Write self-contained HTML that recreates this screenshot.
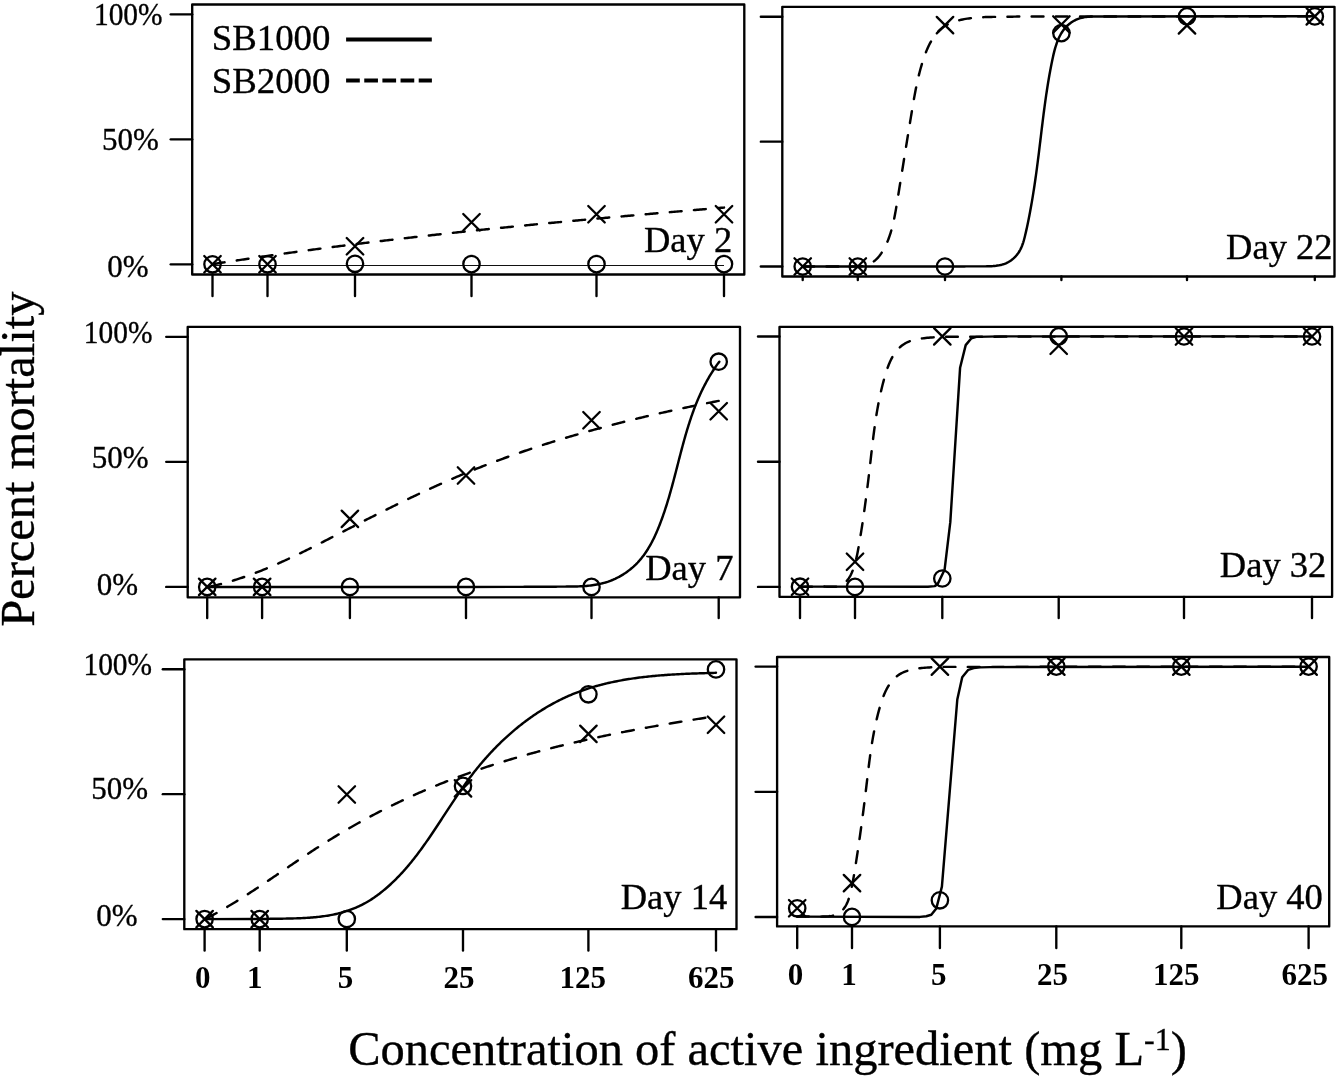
<!DOCTYPE html>
<html><head><meta charset="utf-8"><style>
html,body{margin:0;padding:0;background:#fff;width:1338px;height:1076px;overflow:hidden;}
svg{display:block;will-change:transform;font-family:"Liberation Serif",serif;}
</style></head><body>
<svg width="1338" height="1076" viewBox="0 0 1338 1076">
<rect width="1338" height="1076" fill="#fff"/>
<g fill="none" stroke="#000" stroke-linecap="round">
<rect x="192.20" y="4.50" width="552.10" height="270.00" stroke-width="2.35" stroke-linejoin="round"/>
<path d="M170.70,14.30H192.20" stroke-width="2.35" stroke-linecap="round"/>
<path d="M170.70,139.30H192.20" stroke-width="2.35" stroke-linecap="round"/>
<path d="M170.70,264.30H192.20" stroke-width="2.35" stroke-linecap="round"/>
<path d="M212.50,274.50V296.00" stroke-width="2.35" stroke-linecap="round"/>
<path d="M267.50,274.50V296.00" stroke-width="2.35" stroke-linecap="round"/>
<path d="M355.00,274.50V296.00" stroke-width="2.35" stroke-linecap="round"/>
<path d="M471.50,274.50V296.00" stroke-width="2.35" stroke-linecap="round"/>
<path d="M596.50,274.50V296.00" stroke-width="2.35" stroke-linecap="round"/>
<path d="M724.00,274.50V296.00" stroke-width="2.35" stroke-linecap="round"/>
<path d="M212.50,265.5H724.00" stroke-width="1" stroke="#111" stroke-linecap="butt"/>
<path d="M212.50,264.30 L213.97,263.97 L215.45,263.74 L216.93,263.51 L218.41,263.28 L219.90,263.05 L221.38,262.81 L222.86,262.58 L224.34,262.36 L225.83,262.13 L227.31,261.90 L228.79,261.67 L230.27,261.44 L231.76,261.22 L233.24,260.99 L234.72,260.76 L236.21,260.54 L237.69,260.31 L239.17,260.09 L240.66,259.87 L242.14,259.64 L243.62,259.42 L245.11,259.20 L246.59,258.98 L248.07,258.76 L249.56,258.54 L251.04,258.32 L252.53,258.10 L254.01,257.88 L255.49,257.66 L256.98,257.45 L258.46,257.23 L259.95,257.01 L261.43,256.80 L262.92,256.58 L264.40,256.37 L265.89,256.15 L267.37,255.94 L268.86,255.72 L270.34,255.51 L271.83,255.30 L273.31,255.09 L274.80,254.88 L276.28,254.67 L277.77,254.46 L279.25,254.25 L280.74,254.04 L282.22,253.83 L283.71,253.62 L285.19,253.41 L286.68,253.21 L288.17,253.00 L289.65,252.79 L291.14,252.59 L292.62,252.38 L294.11,252.18 L295.60,251.97 L297.08,251.77 L298.57,251.57 L300.06,251.36 L301.54,251.16 L303.03,250.96 L304.52,250.76 L306.00,250.56 L307.49,250.36 L308.98,250.16 L310.46,249.96 L311.95,249.76 L313.44,249.56 L314.93,249.36 L316.41,249.16 L317.90,248.97 L319.39,248.77 L320.87,248.57 L322.36,248.38 L323.85,248.18 L325.34,247.99 L326.82,247.79 L328.31,247.60 L329.80,247.41 L331.29,247.21 L332.78,247.02 L334.26,246.83 L335.75,246.64 L337.24,246.45 L338.73,246.26 L340.22,246.07 L341.71,245.88 L343.19,245.69 L344.68,245.50 L346.17,245.31 L347.66,245.12 L349.15,244.93 L350.64,244.75 L352.13,244.56 L353.61,244.37 L355.10,244.19 L356.59,244.00 L358.08,243.82 L359.57,243.63 L361.06,243.45 L362.55,243.26 L364.04,243.08 L365.53,242.90 L367.02,242.72 L368.51,242.53 L370.00,242.35 L371.49,242.17 L372.98,241.99 L374.46,241.81 L375.95,241.63 L377.44,241.45 L378.93,241.27 L380.42,241.09 L381.91,240.91 L383.40,240.74 L384.89,240.56 L386.38,240.38 L387.87,240.20 L389.36,240.03 L390.85,239.85 L392.35,239.68 L393.84,239.50 L395.33,239.33 L396.82,239.15 L398.31,238.98 L399.80,238.80 L401.29,238.63 L402.78,238.46 L404.27,238.28 L405.76,238.11 L407.25,237.94 L408.74,237.77 L410.23,237.60 L411.72,237.43 L413.22,237.26 L414.71,237.09 L416.20,236.92 L417.69,236.75 L419.18,236.58 L420.67,236.41 L422.16,236.24 L423.65,236.08 L425.15,235.91 L426.64,235.74 L428.13,235.57 L429.62,235.41 L431.11,235.24 L432.60,235.08 L434.09,234.91 L435.59,234.75 L437.08,234.58 L438.57,234.42 L440.06,234.25 L441.55,234.09 L443.05,233.93 L444.54,233.76 L446.03,233.60 L447.52,233.44 L449.01,233.28 L450.51,233.11 L452.00,232.95 L453.49,232.79 L454.98,232.63 L456.48,232.47 L457.97,232.31 L459.46,232.15 L460.95,231.99 L462.45,231.83 L463.94,231.68 L465.43,231.52 L466.92,231.36 L468.42,231.20 L469.91,231.04 L471.40,230.89 L472.89,230.73 L474.39,230.57 L475.88,230.42 L477.37,230.26 L478.87,230.11 L480.36,229.95 L481.85,229.80 L483.34,229.64 L484.84,229.49 L486.33,229.33 L487.82,229.18 L489.32,229.03 L490.81,228.87 L492.30,228.72 L493.80,228.57 L495.29,228.41 L496.78,228.26 L498.28,228.11 L499.77,227.96 L501.26,227.81 L502.76,227.66 L504.25,227.51 L505.74,227.36 L507.24,227.21 L508.73,227.06 L510.23,226.91 L511.72,226.76 L513.21,226.61 L514.71,226.46 L516.20,226.31 L517.69,226.16 L519.19,226.01 L520.68,225.87 L522.18,225.72 L523.67,225.57 L525.16,225.43 L526.66,225.28 L528.15,225.13 L529.65,224.99 L531.14,224.84 L532.63,224.69 L534.13,224.55 L535.62,224.40 L537.12,224.26 L538.61,224.11 L540.10,223.97 L541.60,223.83 L543.09,223.68 L544.59,223.54 L546.08,223.39 L547.58,223.25 L549.07,223.11 L550.56,222.97 L552.06,222.82 L553.55,222.68 L555.05,222.54 L556.54,222.40 L558.04,222.25 L559.53,222.11 L561.03,221.97 L562.52,221.83 L564.01,221.69 L565.51,221.55 L567.00,221.41 L568.50,221.27 L569.99,221.13 L571.49,220.99 L572.98,220.85 L574.48,220.71 L575.97,220.57 L577.47,220.43 L578.96,220.29 L580.46,220.15 L581.95,220.02 L583.45,219.88 L584.94,219.74 L586.44,219.60 L587.93,219.47 L589.43,219.33 L590.92,219.19 L592.42,219.05 L593.91,218.92 L595.40,218.78 L596.90,218.64 L598.39,218.51 L599.89,218.37 L601.38,218.24 L602.88,218.10 L604.37,217.96 L605.87,217.83 L607.36,217.69 L608.86,217.56 L610.36,217.42 L611.85,217.29 L613.35,217.15 L614.84,217.02 L616.34,216.89 L617.83,216.75 L619.33,216.62 L620.82,216.48 L622.32,216.35 L623.81,216.22 L625.31,216.08 L626.80,215.95 L628.30,215.82 L629.79,215.68 L631.29,215.55 L632.78,215.42 L634.28,215.29 L635.77,215.15 L637.27,215.02 L638.76,214.89 L640.26,214.76 L641.75,214.63 L643.25,214.50 L644.74,214.36 L646.24,214.23 L647.73,214.10 L649.23,213.97 L650.73,213.84 L652.22,213.71 L653.72,213.58 L655.21,213.45 L656.71,213.32 L658.20,213.19 L659.70,213.06 L661.19,212.93 L662.69,212.80 L664.18,212.67 L665.68,212.54 L667.17,212.41 L668.67,212.28 L670.16,212.15 L671.66,212.02 L673.15,211.89 L674.65,211.76 L676.15,211.63 L677.64,211.50 L679.14,211.37 L680.63,211.25 L682.13,211.12 L683.62,210.99 L685.12,210.86 L686.61,210.73 L688.11,210.60 L689.60,210.48 L691.10,210.35 L692.59,210.22 L694.09,210.09 L695.58,209.96 L697.08,209.84 L698.57,209.71 L700.07,209.58 L701.56,209.45 L703.06,209.33 L704.56,209.20 L706.05,209.07 L707.55,208.94 L709.04,208.82 L710.54,208.69 L712.03,208.56 L713.53,208.44 L715.02,208.31 L716.52,208.18 L718.01,208.06 L719.51,207.93 L721.00,207.80 L722.50,207.68 L724.00,207.60" stroke-width="2.45" stroke-dasharray="11.85 12.36" stroke-dashoffset="-0.37" stroke-linecap="round" stroke-linejoin="round"/>
<circle cx="212.50" cy="264.30" r="8.20" stroke-width="2.30"/>
<circle cx="267.50" cy="264.30" r="8.20" stroke-width="2.30"/>
<circle cx="355.00" cy="263.80" r="8.20" stroke-width="2.30"/>
<circle cx="471.50" cy="264.10" r="8.20" stroke-width="2.30"/>
<circle cx="596.50" cy="264.10" r="8.20" stroke-width="2.30"/>
<circle cx="724.00" cy="264.10" r="8.20" stroke-width="2.30"/>
<path d="M204.25,256.05L220.75,272.55M204.25,272.55L220.75,256.05" stroke-width="2.30" stroke-linecap="round"/>
<path d="M259.25,256.05L275.75,272.55M259.25,272.55L275.75,256.05" stroke-width="2.30" stroke-linecap="round"/>
<path d="M346.75,238.05L363.25,254.55M346.75,254.55L363.25,238.05" stroke-width="2.30" stroke-linecap="round"/>
<path d="M463.25,213.95L479.75,230.45M463.25,230.45L479.75,213.95" stroke-width="2.30" stroke-linecap="round"/>
<path d="M588.25,206.05L604.75,222.55M588.25,222.55L604.75,206.05" stroke-width="2.30" stroke-linecap="round"/>
<path d="M715.75,206.05L732.25,222.55M715.75,222.55L732.25,206.05" stroke-width="2.30" stroke-linecap="round"/>
<rect x="782.30" y="6.80" width="552.20" height="269.70" stroke-width="2.35" stroke-linejoin="round"/>
<path d="M760.80,16.80H782.30" stroke-width="2.35" stroke-linecap="round"/>
<path d="M760.80,141.65H782.30" stroke-width="2.35" stroke-linecap="round"/>
<path d="M760.80,266.50H782.30" stroke-width="2.35" stroke-linecap="round"/>
<path d="M802.70,276.50V280.00" stroke-width="2.35" stroke-linecap="round"/>
<path d="M857.80,276.50V280.00" stroke-width="2.35" stroke-linecap="round"/>
<path d="M945.00,276.50V280.00" stroke-width="2.35" stroke-linecap="round"/>
<path d="M1061.40,276.50V280.00" stroke-width="2.35" stroke-linecap="round"/>
<path d="M1187.00,276.50V280.00" stroke-width="2.35" stroke-linecap="round"/>
<path d="M1314.80,276.50V280.00" stroke-width="2.35" stroke-linecap="round"/>
<path d="M802.70,266.50 L960.00,266.50 L961.51,266.49 L963.02,266.46 L964.52,266.43 L966.02,266.40 L967.51,266.39 L969.01,266.38 L970.50,266.37 L971.99,266.37 L973.49,266.37 L974.98,266.37 L976.47,266.37 L977.97,266.37 L979.46,266.37 L980.96,266.37 L982.47,266.37 L983.97,266.36 L985.49,266.35 L987.00,266.33 L988.52,266.29 L990.04,266.24 L991.55,266.17 L993.06,266.08 L994.56,265.95 L996.04,265.79 L997.52,265.58 L998.98,265.34 L1000.42,265.04 L1001.84,264.69 L1003.23,264.28 L1004.60,263.81 L1005.95,263.27 L1007.26,262.65 L1008.53,261.97 L1009.77,261.23 L1010.98,260.42 L1012.14,259.55 L1013.26,258.62 L1014.33,257.63 L1015.36,256.60 L1016.34,255.52 L1017.26,254.39 L1018.13,253.21 L1018.95,252.00 L1019.70,250.75 L1020.40,249.47 L1021.04,248.15 L1021.64,246.80 L1022.19,245.43 L1022.70,244.04 L1023.18,242.62 L1023.62,241.19 L1024.03,239.74 L1024.42,238.28 L1024.80,236.80 L1025.15,235.32 L1025.50,233.84 L1025.84,232.36 L1026.17,230.87 L1026.50,229.38 L1026.83,227.90 L1027.15,226.41 L1027.47,224.92 L1027.78,223.44 L1028.09,221.95 L1028.39,220.46 L1028.69,218.97 L1028.98,217.48 L1029.28,216.00 L1029.56,214.51 L1029.85,213.02 L1030.13,211.53 L1030.40,210.04 L1030.67,208.55 L1030.94,207.06 L1031.21,205.57 L1031.47,204.08 L1031.73,202.60 L1031.98,201.11 L1032.23,199.62 L1032.48,198.13 L1032.73,196.64 L1032.97,195.15 L1033.21,193.66 L1033.44,192.17 L1033.68,190.68 L1033.91,189.19 L1034.13,187.71 L1034.36,186.22 L1034.58,184.73 L1034.80,183.24 L1035.02,181.75 L1035.23,180.26 L1035.45,178.78 L1035.66,177.29 L1035.87,175.80 L1036.07,174.32 L1036.28,172.83 L1036.48,171.35 L1036.68,169.86 L1036.88,168.37 L1037.07,166.89 L1037.27,165.41 L1037.46,163.92 L1037.66,162.44 L1037.85,160.96 L1038.03,159.47 L1038.22,157.99 L1038.41,156.51 L1038.59,155.03 L1038.78,153.55 L1038.96,152.07 L1039.14,150.59 L1039.32,149.11 L1039.50,147.63 L1039.68,146.16 L1039.86,144.68 L1040.04,143.20 L1040.22,141.73 L1040.39,140.25 L1040.57,138.77 L1040.75,137.30 L1040.92,135.82 L1041.10,134.35 L1041.28,132.87 L1041.46,131.40 L1041.63,129.93 L1041.81,128.45 L1041.99,126.98 L1042.17,125.50 L1042.35,124.03 L1042.53,122.55 L1042.71,121.08 L1042.90,119.60 L1043.08,118.13 L1043.27,116.65 L1043.46,115.18 L1043.64,113.70 L1043.83,112.22 L1044.03,110.74 L1044.22,109.27 L1044.42,107.79 L1044.61,106.31 L1044.81,104.83 L1045.02,103.35 L1045.22,101.87 L1045.43,100.39 L1045.64,98.90 L1045.85,97.42 L1046.07,95.94 L1046.28,94.45 L1046.51,92.96 L1046.73,91.48 L1046.96,89.99 L1047.19,88.50 L1047.42,87.01 L1047.66,85.52 L1047.90,84.02 L1048.14,82.53 L1048.39,81.03 L1048.64,79.54 L1048.90,78.04 L1049.16,76.54 L1049.42,75.04 L1049.69,73.53 L1049.97,72.03 L1050.24,70.52 L1050.53,69.02 L1050.81,67.51 L1051.11,66.00 L1051.40,64.48 L1051.70,62.97 L1052.01,61.45 L1052.32,59.94 L1052.64,58.42 L1052.97,56.90 L1053.31,55.39 L1053.66,53.88 L1054.03,52.38 L1054.41,50.89 L1054.81,49.41 L1055.22,47.94 L1055.66,46.48 L1056.12,45.03 L1056.60,43.61 L1057.11,42.20 L1057.64,40.81 L1058.21,39.44 L1058.80,38.09 L1059.43,36.77 L1060.09,35.48 L1060.78,34.21 L1061.51,32.97 L1062.28,31.77 L1063.09,30.59 L1063.94,29.45 L1064.84,28.34 L1065.78,27.28 L1066.76,26.25 L1067.80,25.26 L1068.87,24.32 L1070.00,23.42 L1071.16,22.56 L1072.37,21.76 L1073.61,21.01 L1074.89,20.32 L1076.20,19.68 L1077.54,19.10 L1078.92,18.59 L1080.32,18.13 L1081.75,17.75 L1083.20,17.43 L1084.68,17.16 L1086.16,16.95 L1087.67,16.79 L1089.18,16.66 L1090.69,16.58 L1092.21,16.52 L1093.73,16.49 L1095.24,16.47 L1096.74,16.48 L1098.23,16.48 L1099.70,16.40 L1314.80,16.30" stroke-width="2.45" stroke-linejoin="round"/>
<path d="M802.70,266.50 L857.80,266.50 L859.32,266.41 L860.94,266.32 L862.50,266.15 L864.01,265.88 L865.47,265.53 L866.87,265.10 L868.23,264.59 L869.54,264.01 L870.80,263.35 L872.02,262.63 L873.19,261.84 L874.32,261.00 L875.40,260.09 L876.45,259.13 L877.45,258.12 L878.42,257.06 L879.34,255.95 L880.24,254.80 L881.09,253.62 L881.91,252.40 L882.70,251.14 L883.46,249.86 L884.18,248.55 L884.88,247.22 L885.55,245.87 L886.19,244.50 L886.80,243.13 L887.39,241.74 L887.96,240.34 L888.50,238.94 L889.02,237.53 L889.52,236.12 L890.00,234.69 L890.46,233.27 L890.90,231.84 L891.32,230.40 L891.73,228.96 L892.12,227.51 L892.49,226.06 L892.85,224.60 L893.20,223.14 L893.53,221.68 L893.85,220.21 L894.16,218.74 L894.46,217.27 L894.75,215.79 L895.03,214.31 L895.30,212.83 L895.57,211.35 L895.83,209.87 L896.09,208.38 L896.34,206.89 L896.59,205.41 L896.83,203.92 L897.07,202.43 L897.31,200.94 L897.56,199.45 L897.80,197.96 L898.04,196.47 L898.28,194.98 L898.52,193.49 L898.76,192.00 L899.00,190.51 L899.24,189.02 L899.48,187.53 L899.72,186.04 L899.96,184.55 L900.20,183.07 L900.44,181.58 L900.68,180.09 L900.92,178.60 L901.16,177.11 L901.40,175.62 L901.64,174.14 L901.88,172.65 L902.12,171.16 L902.36,169.67 L902.60,168.19 L902.84,166.70 L903.08,165.21 L903.32,163.73 L903.56,162.24 L903.79,160.76 L904.03,159.27 L904.27,157.79 L904.51,156.30 L904.75,154.82 L904.99,153.34 L905.23,151.85 L905.47,150.37 L905.71,148.89 L905.95,147.41 L906.19,145.92 L906.43,144.44 L906.67,142.96 L906.91,141.48 L907.15,140.00 L907.39,138.52 L907.63,137.05 L907.87,135.57 L908.12,134.09 L908.36,132.61 L908.60,131.14 L908.84,129.66 L909.08,128.19 L909.32,126.71 L909.56,125.24 L909.81,123.76 L910.05,122.29 L910.29,120.82 L910.53,119.35 L910.78,117.88 L911.02,116.41 L911.26,114.94 L911.50,113.47 L911.75,112.00 L911.99,110.53 L912.24,109.07 L912.48,107.60 L912.73,106.14 L912.97,104.67 L913.22,103.21 L913.47,101.75 L913.73,100.28 L913.98,98.82 L914.24,97.36 L914.51,95.89 L914.78,94.43 L915.05,92.97 L915.33,91.50 L915.61,90.04 L915.90,88.58 L916.19,87.11 L916.49,85.65 L916.80,84.18 L917.11,82.72 L917.43,81.25 L917.76,79.78 L918.10,78.32 L918.45,76.85 L918.81,75.38 L919.17,73.91 L919.55,72.44 L919.93,70.96 L920.33,69.49 L920.74,68.01 L921.16,66.54 L921.59,65.06 L922.03,63.58 L922.49,62.10 L922.96,60.61 L923.44,59.13 L923.94,57.65 L924.45,56.18 L924.98,54.71 L925.53,53.26 L926.10,51.81 L926.68,50.37 L927.29,48.95 L927.92,47.54 L928.56,46.15 L929.24,44.78 L929.93,43.43 L930.65,42.10 L931.39,40.80 L932.16,39.52 L932.96,38.27 L933.79,37.05 L934.64,35.86 L935.52,34.70 L936.44,33.58 L937.38,32.50 L938.36,31.45 L939.37,30.44 L940.41,29.48 L941.49,28.56 L942.60,27.68 L943.75,26.85 L944.93,26.07 L946.15,25.33 L947.40,24.64 L948.67,23.98 L949.98,23.37 L951.31,22.79 L952.67,22.26 L954.05,21.76 L955.45,21.29 L956.87,20.86 L958.31,20.45 L959.76,20.08 L961.23,19.74 L962.71,19.43 L964.21,19.14 L965.71,18.87 L967.23,18.63 L968.75,18.42 L970.27,18.22 L971.80,18.04 L973.33,17.88 L974.86,17.73 L976.39,17.61 L977.91,17.49 L979.43,17.39 L980.95,17.30 L982.46,17.22 L983.98,17.15 L985.48,17.09 L986.99,17.03 L988.50,16.99 L990.00,16.95 L991.50,16.92 L993.00,16.90 L994.50,16.88 L996.00,16.86 L997.49,16.85 L998.99,16.83 L1000.48,16.82 L1001.98,16.81 L1003.48,16.80 L1004.97,16.79 L1006.47,16.78 L1007.97,16.76 L1009.47,16.74 L1010.97,16.72 L1012.47,16.69 L1013.98,16.65 L1015.48,16.61 L1016.99,16.56 L1018.50,16.50 L1020.00,16.50 L1314.80,16.30" stroke-width="2.45" stroke-dasharray="11.85 12.36" stroke-dashoffset="0.41" stroke-linecap="round" stroke-linejoin="round"/>
<circle cx="802.70" cy="266.50" r="8.20" stroke-width="2.30"/>
<circle cx="857.80" cy="266.50" r="8.20" stroke-width="2.30"/>
<circle cx="945.00" cy="266.50" r="8.20" stroke-width="2.30"/>
<circle cx="1061.40" cy="33.10" r="8.20" stroke-width="2.30"/>
<circle cx="1187.00" cy="16.40" r="8.20" stroke-width="2.30"/>
<circle cx="1314.80" cy="16.40" r="8.20" stroke-width="2.30"/>
<path d="M794.45,258.25L810.95,274.75M794.45,274.75L810.95,258.25" stroke-width="2.30" stroke-linecap="round"/>
<path d="M849.55,258.25L866.05,274.75M849.55,274.75L866.05,258.25" stroke-width="2.30" stroke-linecap="round"/>
<path d="M936.75,16.85L953.25,33.35M936.75,33.35L953.25,16.85" stroke-width="2.30" stroke-linecap="round"/>
<path d="M1053.15,16.25L1069.65,32.75M1053.15,32.75L1069.65,16.25" stroke-width="2.30" stroke-linecap="round"/>
<path d="M1178.75,17.15L1195.25,33.65M1178.75,33.65L1195.25,17.15" stroke-width="2.30" stroke-linecap="round"/>
<path d="M1306.55,8.15L1323.05,24.65M1306.55,24.65L1323.05,8.15" stroke-width="2.30" stroke-linecap="round"/>
<rect x="187.70" y="326.90" width="552.30" height="270.40" stroke-width="2.35" stroke-linejoin="round"/>
<path d="M166.20,336.80H187.70" stroke-width="2.35" stroke-linecap="round"/>
<path d="M166.20,461.85H187.70" stroke-width="2.35" stroke-linecap="round"/>
<path d="M166.20,586.90H187.70" stroke-width="2.35" stroke-linecap="round"/>
<path d="M207.20,597.30V618.00" stroke-width="2.35" stroke-linecap="round"/>
<path d="M262.10,597.30V618.00" stroke-width="2.35" stroke-linecap="round"/>
<path d="M349.90,597.30V618.00" stroke-width="2.35" stroke-linecap="round"/>
<path d="M466.00,597.30V618.00" stroke-width="2.35" stroke-linecap="round"/>
<path d="M591.50,597.30V618.00" stroke-width="2.35" stroke-linecap="round"/>
<path d="M718.70,597.30V618.00" stroke-width="2.35" stroke-linecap="round"/>
<path d="M207.20,586.90 L262.10,586.90 L349.90,586.90 L466.00,586.90 L520.00,586.85 L521.50,586.88 L523.02,586.86 L524.53,586.84 L526.04,586.83 L527.55,586.81 L529.06,586.80 L530.56,586.79 L532.07,586.78 L533.57,586.76 L535.07,586.75 L536.58,586.74 L538.08,586.73 L539.58,586.73 L541.08,586.72 L542.58,586.71 L544.07,586.70 L545.57,586.69 L547.07,586.69 L548.57,586.68 L550.07,586.67 L551.57,586.67 L553.08,586.66 L554.58,586.65 L556.08,586.65 L557.59,586.64 L559.09,586.63 L560.60,586.63 L562.11,586.62 L563.62,586.61 L565.14,586.60 L566.65,586.59 L568.17,586.58 L569.69,586.57 L571.21,586.55 L572.73,586.53 L574.25,586.50 L575.77,586.46 L577.29,586.42 L578.80,586.36 L580.32,586.30 L581.83,586.22 L583.34,586.13 L584.85,586.03 L586.36,585.91 L587.86,585.78 L589.36,585.62 L590.85,585.45 L592.33,585.26 L593.82,585.05 L595.29,584.82 L596.76,584.57 L598.22,584.29 L599.68,583.99 L601.13,583.66 L602.57,583.30 L604.00,582.92 L605.42,582.51 L606.83,582.06 L608.24,581.59 L609.63,581.09 L611.01,580.56 L612.38,580.01 L613.74,579.42 L615.09,578.81 L616.42,578.17 L617.74,577.51 L619.05,576.82 L620.34,576.10 L621.62,575.36 L622.89,574.60 L624.14,573.80 L625.37,572.99 L626.58,572.15 L627.78,571.28 L628.96,570.39 L630.13,569.48 L631.27,568.55 L632.40,567.59 L633.51,566.61 L634.59,565.61 L635.66,564.59 L636.71,563.54 L637.73,562.48 L638.73,561.39 L639.72,560.28 L640.68,559.16 L641.61,558.01 L642.53,556.85 L643.43,555.67 L644.31,554.47 L645.17,553.25 L646.01,552.02 L646.83,550.77 L647.64,549.51 L648.42,548.23 L649.19,546.94 L649.95,545.64 L650.68,544.33 L651.41,543.00 L652.11,541.66 L652.81,540.31 L653.48,538.95 L654.15,537.59 L654.80,536.21 L655.44,534.82 L656.06,533.43 L656.68,532.03 L657.28,530.63 L657.87,529.22 L658.45,527.80 L659.03,526.38 L659.59,524.96 L660.14,523.53 L660.68,522.10 L661.22,520.66 L661.75,519.23 L662.27,517.79 L662.78,516.36 L663.28,514.92 L663.78,513.47 L664.27,512.03 L664.75,510.59 L665.23,509.14 L665.70,507.69 L666.17,506.25 L666.62,504.80 L667.08,503.34 L667.52,501.89 L667.97,500.44 L668.40,498.98 L668.84,497.53 L669.26,496.07 L669.68,494.62 L670.10,493.16 L670.52,491.70 L670.93,490.24 L671.33,488.78 L671.74,487.32 L672.14,485.86 L672.53,484.40 L672.93,482.94 L673.32,481.48 L673.71,480.01 L674.09,478.55 L674.48,477.09 L674.86,475.63 L675.24,474.17 L675.62,472.70 L676.00,471.24 L676.37,469.78 L676.75,468.32 L677.13,466.86 L677.50,465.40 L677.88,463.94 L678.25,462.48 L678.62,461.02 L679.00,459.56 L679.38,458.11 L679.75,456.65 L680.13,455.19 L680.51,453.74 L680.89,452.28 L681.27,450.83 L681.65,449.38 L682.04,447.93 L682.43,446.48 L682.82,445.03 L683.21,443.59 L683.61,442.14 L684.00,440.70 L684.41,439.26 L684.81,437.82 L685.22,436.38 L685.63,434.94 L686.05,433.50 L686.47,432.07 L686.90,430.64 L687.33,429.21 L687.76,427.78 L688.20,426.36 L688.65,424.93 L689.10,423.51 L689.56,422.09 L690.02,420.68 L690.49,419.26 L690.96,417.85 L691.44,416.44 L691.93,415.04 L692.43,413.64 L692.93,412.23 L693.44,410.84 L693.95,409.44 L694.48,408.05 L695.01,406.66 L695.55,405.27 L696.10,403.89 L696.66,402.51 L697.23,401.14 L697.80,399.76 L698.39,398.39 L698.98,397.03 L699.58,395.66 L700.20,394.30 L700.82,392.95 L701.45,391.60 L702.10,390.25 L702.75,388.90 L703.42,387.56 L704.09,386.23 L704.78,384.89 L705.48,383.56 L706.19,382.24 L706.91,380.92 L707.64,379.60 L708.39,378.29 L709.15,376.98 L709.92,375.68 L710.71,374.38 L711.50,373.09 L712.31,371.80 L713.14,370.51 L713.97,369.23 L714.83,367.96 L715.69,366.69 L716.57,365.42 L717.47,364.16 L718.37,362.91 L719.30,361.70" stroke-width="2.45" stroke-linejoin="round"/>
<path d="M207.20,586.90 L208.74,586.92 L210.21,586.60 L211.68,586.27 L213.15,585.94 L214.62,585.60 L216.08,585.25 L217.54,584.89 L218.99,584.53 L220.45,584.15 L221.90,583.78 L223.35,583.39 L224.79,582.99 L226.23,582.59 L227.67,582.19 L229.11,581.77 L230.55,581.35 L231.98,580.92 L233.41,580.49 L234.84,580.04 L236.26,579.60 L237.69,579.14 L239.11,578.68 L240.52,578.21 L241.94,577.74 L243.35,577.26 L244.77,576.77 L246.17,576.28 L247.58,575.79 L248.99,575.28 L250.39,574.78 L251.79,574.26 L253.19,573.74 L254.59,573.22 L255.98,572.69 L257.38,572.15 L258.77,571.61 L260.16,571.07 L261.54,570.52 L262.93,569.96 L264.31,569.40 L265.70,568.84 L267.08,568.27 L268.46,567.69 L269.83,567.11 L271.21,566.53 L272.59,565.95 L273.96,565.35 L275.33,564.76 L276.70,564.16 L278.07,563.56 L279.44,562.95 L280.80,562.34 L282.17,561.73 L283.53,561.11 L284.89,560.49 L286.25,559.87 L287.61,559.24 L288.97,558.61 L290.33,557.97 L291.68,557.34 L293.04,556.70 L294.39,556.06 L295.75,555.41 L297.10,554.76 L298.45,554.11 L299.80,553.46 L301.15,552.80 L302.50,552.15 L303.85,551.49 L305.19,550.82 L306.54,550.16 L307.89,549.49 L309.23,548.83 L310.58,548.16 L311.92,547.49 L313.26,546.81 L314.61,546.14 L315.95,545.46 L317.29,544.79 L318.63,544.11 L319.97,543.43 L321.31,542.75 L322.65,542.06 L323.99,541.38 L325.33,540.70 L326.67,540.01 L328.01,539.33 L329.35,538.64 L330.69,537.96 L332.03,537.27 L333.37,536.59 L334.71,535.90 L336.05,535.21 L337.38,534.52 L338.72,533.84 L340.06,533.15 L341.40,532.46 L342.74,531.78 L344.08,531.09 L345.42,530.40 L346.76,529.72 L348.10,529.03 L349.44,528.35 L350.78,527.66 L352.12,526.98 L353.46,526.29 L354.80,525.61 L356.14,524.92 L357.48,524.24 L358.82,523.55 L360.16,522.87 L361.50,522.19 L362.84,521.50 L364.18,520.82 L365.53,520.14 L366.87,519.46 L368.21,518.78 L369.55,518.10 L370.90,517.42 L372.24,516.74 L373.58,516.06 L374.93,515.39 L376.27,514.71 L377.62,514.04 L378.96,513.36 L380.31,512.69 L381.65,512.01 L383.00,511.34 L384.34,510.67 L385.69,510.00 L387.04,509.33 L388.39,508.66 L389.73,507.99 L391.08,507.33 L392.43,506.66 L393.78,506.00 L395.13,505.33 L396.48,504.67 L397.83,504.01 L399.18,503.35 L400.54,502.69 L401.89,502.03 L403.24,501.37 L404.59,500.72 L405.95,500.06 L407.30,499.41 L408.66,498.76 L410.01,498.11 L411.37,497.46 L412.73,496.81 L414.08,496.17 L415.44,495.52 L416.80,494.88 L418.16,494.24 L419.52,493.60 L420.88,492.96 L422.24,492.32 L423.60,491.69 L424.97,491.05 L426.33,490.42 L427.69,489.79 L429.06,489.16 L430.42,488.53 L431.79,487.91 L433.16,487.29 L434.52,486.66 L435.89,486.04 L437.26,485.43 L438.63,484.81 L440.00,484.20 L441.38,483.58 L442.75,482.97 L444.12,482.37 L445.49,481.76 L446.87,481.15 L448.25,480.55 L449.62,479.95 L451.00,479.35 L452.38,478.76 L453.76,478.16 L455.14,477.57 L456.52,476.98 L457.90,476.40 L459.28,475.81 L460.67,475.23 L462.05,474.65 L463.44,474.07 L464.83,473.49 L466.21,472.92 L467.60,472.35 L468.99,471.78 L470.38,471.21 L471.77,470.65 L473.17,470.09 L474.56,469.53 L475.95,468.97 L477.35,468.41 L478.74,467.86 L480.14,467.31 L481.54,466.76 L482.94,466.21 L484.34,465.67 L485.74,465.12 L487.14,464.58 L488.54,464.05 L489.94,463.51 L491.34,462.98 L492.75,462.44 L494.15,461.91 L495.56,461.39 L496.97,460.86 L498.37,460.34 L499.78,459.82 L501.19,459.30 L502.60,458.78 L504.01,458.26 L505.42,457.75 L506.84,457.24 L508.25,456.73 L509.66,456.22 L511.08,455.72 L512.49,455.21 L513.91,454.71 L515.33,454.21 L516.74,453.72 L518.16,453.22 L519.58,452.73 L521.00,452.24 L522.42,451.75 L523.84,451.26 L525.27,450.78 L526.69,450.29 L528.11,449.81 L529.54,449.33 L530.96,448.86 L532.39,448.38 L533.81,447.91 L535.24,447.44 L536.67,446.97 L538.09,446.50 L539.52,446.03 L540.95,445.57 L542.38,445.11 L543.81,444.65 L545.24,444.19 L546.68,443.73 L548.11,443.28 L549.54,442.82 L550.98,442.37 L552.41,441.92 L553.85,441.48 L555.28,441.03 L556.72,440.59 L558.16,440.14 L559.59,439.70 L561.03,439.27 L562.47,438.83 L563.91,438.39 L565.35,437.96 L566.79,437.53 L568.23,437.10 L569.67,436.67 L571.11,436.25 L572.56,435.82 L574.00,435.40 L575.44,434.98 L576.89,434.56 L578.33,434.14 L579.78,433.73 L581.22,433.31 L582.67,432.90 L584.12,432.49 L585.56,432.08 L587.01,431.67 L588.46,431.27 L589.91,430.86 L591.36,430.46 L592.81,430.06 L594.26,429.66 L595.71,429.26 L597.16,428.86 L598.61,428.47 L600.06,428.08 L601.51,427.69 L602.97,427.30 L604.42,426.91 L605.87,426.52 L607.33,426.14 L608.78,425.75 L610.24,425.37 L611.69,424.99 L613.15,424.61 L614.61,424.23 L616.06,423.86 L617.52,423.48 L618.98,423.11 L620.43,422.74 L621.89,422.37 L623.35,422.00 L624.81,421.63 L626.27,421.27 L627.73,420.90 L629.19,420.54 L630.65,420.18 L632.11,419.82 L633.57,419.46 L635.03,419.10 L636.49,418.75 L637.95,418.40 L639.42,418.04 L640.88,417.69 L642.34,417.34 L643.80,416.99 L645.27,416.65 L646.73,416.30 L648.19,415.96 L649.66,415.61 L651.12,415.27 L652.59,414.93 L654.05,414.59 L655.52,414.25 L656.98,413.92 L658.45,413.58 L659.91,413.25 L661.38,412.92 L662.85,412.58 L664.31,412.25 L665.78,411.93 L667.25,411.60 L668.72,411.27 L670.18,410.95 L671.65,410.62 L673.12,410.30 L674.59,409.98 L676.05,409.66 L677.52,409.34 L678.99,409.02 L680.46,408.71 L681.93,408.39 L683.40,408.08 L684.87,407.77 L686.34,407.45 L687.81,407.14 L689.28,406.83 L690.74,406.53 L692.21,406.22 L693.68,405.91 L695.15,405.61 L696.62,405.31 L698.10,405.00 L699.57,404.70 L701.04,404.40 L702.51,404.10 L703.98,403.80 L705.45,403.51 L706.92,403.21 L708.39,402.92 L709.86,402.62 L711.33,402.33 L712.80,402.04 L714.27,401.75 L715.75,401.46 L717.22,401.17 L718.70,400.90" stroke-width="2.45" stroke-dasharray="11.85 12.36" stroke-dashoffset="-2.29" stroke-linecap="round" stroke-linejoin="round"/>
<circle cx="207.20" cy="586.90" r="8.20" stroke-width="2.30"/>
<circle cx="262.10" cy="586.90" r="8.20" stroke-width="2.30"/>
<circle cx="349.90" cy="586.90" r="8.20" stroke-width="2.30"/>
<circle cx="466.00" cy="586.90" r="8.20" stroke-width="2.30"/>
<circle cx="591.50" cy="586.90" r="8.20" stroke-width="2.30"/>
<circle cx="718.70" cy="361.70" r="8.20" stroke-width="2.30"/>
<path d="M198.95,578.65L215.45,595.15M198.95,595.15L215.45,578.65" stroke-width="2.30" stroke-linecap="round"/>
<path d="M253.85,578.65L270.35,595.15M253.85,595.15L270.35,578.65" stroke-width="2.30" stroke-linecap="round"/>
<path d="M341.65,510.65L358.15,527.15M341.65,527.15L358.15,510.65" stroke-width="2.30" stroke-linecap="round"/>
<path d="M457.75,467.25L474.25,483.75M457.75,483.75L474.25,467.25" stroke-width="2.30" stroke-linecap="round"/>
<path d="M583.25,412.05L599.75,428.55M583.25,428.55L599.75,412.05" stroke-width="2.30" stroke-linecap="round"/>
<path d="M710.45,402.95L726.95,419.45M710.45,419.45L726.95,402.95" stroke-width="2.30" stroke-linecap="round"/>
<rect x="779.50" y="326.90" width="552.60" height="269.90" stroke-width="2.35" stroke-linejoin="round"/>
<path d="M758.00,336.50H779.50" stroke-width="2.35" stroke-linecap="round"/>
<path d="M758.00,461.70H779.50" stroke-width="2.35" stroke-linecap="round"/>
<path d="M758.00,586.90H779.50" stroke-width="2.35" stroke-linecap="round"/>
<path d="M800.00,596.80V618.00" stroke-width="2.35" stroke-linecap="round"/>
<path d="M855.00,596.80V618.00" stroke-width="2.35" stroke-linecap="round"/>
<path d="M942.30,596.80V618.00" stroke-width="2.35" stroke-linecap="round"/>
<path d="M1058.70,596.80V618.00" stroke-width="2.35" stroke-linecap="round"/>
<path d="M1184.00,596.80V618.00" stroke-width="2.35" stroke-linecap="round"/>
<path d="M1312.00,596.80V618.00" stroke-width="2.35" stroke-linecap="round"/>
<path d="M800.00,586.60 L928.00,586.70 L934.60,586.10 L937.50,584.40 L944.60,569.70 L950.30,522.20 L960.10,367.70 L965.70,345.10 L971.40,338.20 L976.40,336.90 L1000.00,336.40 L1312.00,336.40" stroke-width="2.45" stroke-linejoin="round"/>
<path d="M800.00,586.70 L801.50,586.71 L803.01,586.72 L804.52,586.73 L806.02,586.73 L807.52,586.72 L809.01,586.71 L810.51,586.69 L812.00,586.67 L813.49,586.65 L814.99,586.63 L816.48,586.61 L817.98,586.59 L819.47,586.58 L820.97,586.58 L822.47,586.58 L823.98,586.59 L825.49,586.62 L827.01,586.66 L828.53,586.71 L830.05,586.76 L831.57,586.80 L833.08,586.82 L834.57,586.79 L836.04,586.69 L837.47,586.50 L838.85,586.18 L840.18,585.73 L841.44,585.15 L842.65,584.47 L843.81,583.68 L844.90,582.79 L845.94,581.81 L846.92,580.75 L847.84,579.61 L848.70,578.41 L849.51,577.15 L850.28,575.83 L850.99,574.46 L851.65,573.05 L852.28,571.61 L852.86,570.14 L853.41,568.65 L853.92,567.14 L854.40,565.62 L854.84,564.10 L855.26,562.58 L855.66,561.07 L856.03,559.57 L856.39,558.09 L856.72,556.61 L857.04,555.15 L857.34,553.69 L857.63,552.23 L857.91,550.78 L858.18,549.33 L858.44,547.89 L858.70,546.44 L858.95,544.99 L859.21,543.54 L859.46,542.09 L859.70,540.63 L859.95,539.17 L860.19,537.71 L860.43,536.25 L860.67,534.79 L860.91,533.32 L861.15,531.86 L861.38,530.39 L861.61,528.92 L861.84,527.45 L862.07,525.97 L862.29,524.50 L862.52,523.02 L862.74,521.54 L862.96,520.06 L863.17,518.58 L863.39,517.10 L863.61,515.62 L863.82,514.13 L864.03,512.65 L864.24,511.16 L864.45,509.67 L864.65,508.18 L864.86,506.69 L865.06,505.20 L865.26,503.71 L865.46,502.22 L865.66,500.73 L865.86,499.24 L866.06,497.74 L866.25,496.25 L866.44,494.76 L866.64,493.26 L866.83,491.77 L867.02,490.27 L867.20,488.78 L867.39,487.28 L867.58,485.78 L867.76,484.29 L867.95,482.79 L868.13,481.30 L868.31,479.80 L868.49,478.31 L868.67,476.81 L868.85,475.32 L869.03,473.82 L869.20,472.33 L869.38,470.84 L869.55,469.34 L869.73,467.85 L869.90,466.36 L870.07,464.87 L870.24,463.38 L870.42,461.89 L870.59,460.40 L870.76,458.91 L870.93,457.43 L871.09,455.94 L871.26,454.45 L871.43,452.97 L871.60,451.48 L871.77,450.00 L871.95,448.52 L872.12,447.04 L872.29,445.55 L872.47,444.07 L872.64,442.59 L872.82,441.11 L873.00,439.63 L873.18,438.16 L873.36,436.68 L873.55,435.20 L873.74,433.72 L873.93,432.24 L874.12,430.77 L874.32,429.29 L874.52,427.82 L874.72,426.34 L874.93,424.86 L875.14,423.39 L875.36,421.91 L875.58,420.44 L875.80,418.96 L876.03,417.49 L876.26,416.01 L876.50,414.54 L876.74,413.07 L876.98,411.59 L877.24,410.12 L877.50,408.64 L877.76,407.17 L878.03,405.69 L878.30,404.22 L878.59,402.75 L878.87,401.27 L879.17,399.80 L879.47,398.32 L879.78,396.85 L880.09,395.37 L880.42,393.90 L880.75,392.42 L881.09,390.94 L881.43,389.47 L881.79,387.99 L882.15,386.51 L882.52,385.04 L882.90,383.56 L883.28,382.08 L883.68,380.60 L884.09,379.12 L884.50,377.64 L884.92,376.16 L885.36,374.68 L885.81,373.21 L886.27,371.74 L886.75,370.28 L887.24,368.83 L887.75,367.40 L888.29,365.97 L888.84,364.57 L889.41,363.18 L890.01,361.81 L890.63,360.46 L891.28,359.14 L891.96,357.84 L892.66,356.57 L893.40,355.32 L894.16,354.11 L894.96,352.94 L895.79,351.79 L896.66,350.69 L897.57,349.63 L898.51,348.60 L899.50,347.62 L900.52,346.69 L901.59,345.80 L902.70,344.96 L903.85,344.17 L905.05,343.43 L906.30,342.75 L907.60,342.13 L908.94,341.56 L910.33,341.04 L911.75,340.56 L913.20,340.14 L914.69,339.75 L916.20,339.40 L917.73,339.09 L919.28,338.82 L920.85,338.57 L922.42,338.35 L924.01,338.16 L925.59,337.98 L927.18,337.83 L928.77,337.69 L930.34,337.57 L931.90,337.46 L933.45,337.35 L934.98,337.25 L936.49,337.15 L937.97,337.04 L939.41,336.94 L940.83,336.83 L942.30,336.70 L1312.00,336.40" stroke-width="2.45" stroke-dasharray="11.85 12.36" stroke-dashoffset="-0.17" stroke-linecap="round" stroke-linejoin="round"/>
<circle cx="800.00" cy="586.70" r="8.20" stroke-width="2.30"/>
<circle cx="855.00" cy="586.90" r="8.20" stroke-width="2.30"/>
<circle cx="942.30" cy="578.50" r="8.20" stroke-width="2.30"/>
<circle cx="1058.70" cy="336.40" r="8.20" stroke-width="2.30"/>
<circle cx="1184.00" cy="336.50" r="8.20" stroke-width="2.30"/>
<circle cx="1312.00" cy="336.50" r="8.20" stroke-width="2.30"/>
<path d="M791.75,578.45L808.25,594.95M791.75,594.95L808.25,578.45" stroke-width="2.30" stroke-linecap="round"/>
<path d="M846.75,553.55L863.25,570.05M846.75,570.05L863.25,553.55" stroke-width="2.30" stroke-linecap="round"/>
<path d="M934.05,328.15L950.55,344.65M934.05,344.65L950.55,328.15" stroke-width="2.30" stroke-linecap="round"/>
<path d="M1050.45,337.45L1066.95,353.95M1050.45,353.95L1066.95,337.45" stroke-width="2.30" stroke-linecap="round"/>
<path d="M1175.75,328.25L1192.25,344.75M1175.75,344.75L1192.25,328.25" stroke-width="2.30" stroke-linecap="round"/>
<path d="M1303.75,328.25L1320.25,344.75M1303.75,344.75L1320.25,328.25" stroke-width="2.30" stroke-linecap="round"/>
<rect x="184.30" y="659.30" width="552.20" height="269.90" stroke-width="2.35" stroke-linejoin="round"/>
<path d="M162.80,669.20H184.30" stroke-width="2.35" stroke-linecap="round"/>
<path d="M162.80,794.15H184.30" stroke-width="2.35" stroke-linecap="round"/>
<path d="M162.80,919.10H184.30" stroke-width="2.35" stroke-linecap="round"/>
<path d="M204.60,929.20V950.60" stroke-width="2.35" stroke-linecap="round"/>
<path d="M259.70,929.20V950.60" stroke-width="2.35" stroke-linecap="round"/>
<path d="M346.80,929.20V950.60" stroke-width="2.35" stroke-linecap="round"/>
<path d="M463.00,929.20V950.60" stroke-width="2.35" stroke-linecap="round"/>
<path d="M588.40,929.20V950.60" stroke-width="2.35" stroke-linecap="round"/>
<path d="M716.00,929.20V950.60" stroke-width="2.35" stroke-linecap="round"/>
<path d="M204.60,919.10 L259.70,919.00 L261.23,919.02 L262.72,918.98 L264.21,918.94 L265.70,918.91 L267.20,918.88 L268.69,918.86 L270.19,918.83 L271.69,918.81 L273.19,918.79 L274.69,918.76 L276.20,918.74 L277.70,918.72 L279.21,918.70 L280.71,918.68 L282.22,918.66 L283.73,918.63 L285.24,918.61 L286.75,918.58 L288.26,918.55 L289.77,918.52 L291.28,918.48 L292.80,918.44 L294.31,918.40 L295.82,918.35 L297.34,918.30 L298.85,918.25 L300.36,918.19 L301.88,918.12 L303.39,918.05 L304.90,917.97 L306.42,917.89 L307.93,917.79 L309.44,917.69 L310.94,917.58 L312.45,917.46 L313.96,917.33 L315.46,917.20 L316.96,917.05 L318.46,916.89 L319.96,916.72 L321.45,916.53 L322.94,916.34 L324.43,916.13 L325.92,915.91 L327.40,915.67 L328.88,915.42 L330.36,915.16 L331.83,914.88 L333.29,914.58 L334.76,914.27 L336.22,913.94 L337.67,913.60 L339.12,913.24 L340.56,912.86 L342.00,912.47 L343.43,912.06 L344.86,911.63 L346.28,911.18 L347.70,910.72 L349.10,910.24 L350.50,909.74 L351.90,909.22 L353.28,908.68 L354.66,908.13 L356.03,907.55 L357.39,906.96 L358.75,906.34 L360.09,905.71 L361.43,905.06 L362.76,904.39 L364.08,903.69 L365.38,902.98 L366.68,902.24 L367.97,901.49 L369.25,900.72 L370.52,899.93 L371.78,899.12 L373.04,898.29 L374.28,897.45 L375.51,896.59 L376.73,895.72 L377.94,894.83 L379.15,893.93 L380.34,893.01 L381.52,892.08 L382.70,891.14 L383.86,890.18 L385.02,889.22 L386.16,888.24 L387.30,887.25 L388.42,886.26 L389.54,885.25 L390.65,884.23 L391.74,883.21 L392.83,882.18 L393.91,881.14 L394.98,880.09 L396.04,879.03 L397.09,877.97 L398.13,876.90 L399.17,875.83 L400.19,874.74 L401.21,873.65 L402.22,872.56 L403.22,871.45 L404.21,870.34 L405.20,869.23 L406.18,868.11 L407.15,866.98 L408.11,865.84 L409.07,864.70 L410.02,863.56 L410.97,862.41 L411.91,861.25 L412.84,860.09 L413.76,858.92 L414.68,857.75 L415.60,856.58 L416.51,855.40 L417.41,854.21 L418.31,853.02 L419.20,851.83 L420.09,850.63 L420.98,849.43 L421.86,848.22 L422.73,847.01 L423.60,845.80 L424.47,844.58 L425.33,843.36 L426.19,842.13 L427.05,840.91 L427.90,839.68 L428.75,838.45 L429.60,837.21 L430.45,835.97 L431.29,834.73 L432.13,833.49 L432.96,832.25 L433.80,831.00 L434.63,829.75 L435.46,828.50 L436.29,827.25 L437.12,826.00 L437.95,824.74 L438.77,823.48 L439.60,822.23 L440.42,820.97 L441.24,819.71 L442.07,818.45 L442.89,817.19 L443.71,815.93 L444.54,814.67 L445.36,813.41 L446.18,812.15 L447.01,810.89 L447.83,809.62 L448.66,808.36 L449.48,807.10 L450.31,805.84 L451.14,804.59 L451.97,803.33 L452.80,802.07 L453.64,800.82 L454.48,799.56 L455.32,798.31 L456.16,797.06 L457.00,795.81 L457.85,794.56 L458.70,793.31 L459.55,792.07 L460.41,790.83 L461.27,789.59 L462.13,788.35 L463.00,787.12 L463.87,785.89 L464.75,784.66 L465.63,783.43 L466.51,782.21 L467.40,780.99 L468.29,779.78 L469.19,778.56 L470.10,777.36 L471.00,776.15 L471.92,774.95 L472.84,773.75 L473.77,772.56 L474.70,771.37 L475.64,770.19 L476.58,769.01 L477.53,767.84 L478.49,766.67 L479.45,765.50 L480.41,764.34 L481.39,763.18 L482.37,762.03 L483.35,760.89 L484.34,759.75 L485.34,758.61 L486.34,757.48 L487.35,756.35 L488.37,755.23 L489.39,754.12 L490.41,753.01 L491.44,751.91 L492.48,750.81 L493.52,749.72 L494.57,748.63 L495.62,747.55 L496.68,746.47 L497.75,745.40 L498.82,744.34 L499.90,743.28 L500.98,742.23 L502.06,741.19 L503.16,740.15 L504.25,739.12 L505.36,738.09 L506.47,737.07 L507.58,736.06 L508.70,735.06 L509.83,734.06 L510.96,733.06 L512.09,732.08 L513.23,731.10 L514.38,730.13 L515.53,729.17 L516.69,728.21 L517.85,727.26 L519.02,726.32 L520.19,725.38 L521.37,724.45 L522.56,723.53 L523.74,722.62 L524.94,721.71 L526.14,720.82 L527.34,719.93 L528.55,719.05 L529.76,718.17 L530.98,717.31 L532.21,716.45 L533.44,715.60 L534.67,714.76 L535.91,713.92 L537.15,713.10 L538.40,712.28 L539.66,711.47 L540.92,710.67 L542.18,709.88 L543.45,709.10 L544.72,708.33 L546.00,707.56 L547.28,706.81 L548.57,706.06 L549.87,705.32 L551.16,704.59 L552.47,703.87 L553.77,703.16 L555.08,702.46 L556.40,701.77 L557.72,701.09 L559.05,700.42 L560.38,699.76 L561.72,699.10 L563.06,698.46 L564.40,697.83 L565.75,697.20 L567.10,696.59 L568.46,695.98 L569.82,695.39 L571.19,694.81 L572.56,694.23 L573.94,693.67 L575.32,693.12 L576.71,692.58 L578.10,692.05 L579.49,691.52 L580.89,691.01 L582.29,690.51 L583.70,690.02 L585.11,689.54 L586.52,689.06 L587.94,688.60 L589.36,688.15 L590.78,687.70 L592.21,687.27 L593.65,686.84 L595.08,686.43 L596.52,686.02 L597.96,685.62 L599.41,685.23 L600.86,684.85 L602.31,684.47 L603.76,684.11 L605.22,683.75 L606.68,683.40 L608.15,683.06 L609.61,682.73 L611.08,682.41 L612.55,682.09 L614.03,681.78 L615.50,681.48 L616.98,681.18 L618.46,680.90 L619.94,680.62 L621.43,680.34 L622.92,680.08 L624.40,679.82 L625.90,679.57 L627.39,679.32 L628.88,679.08 L630.38,678.85 L631.88,678.63 L633.37,678.41 L634.87,678.19 L636.38,677.98 L637.88,677.78 L639.38,677.59 L640.89,677.40 L642.39,677.21 L643.90,677.03 L645.41,676.86 L646.92,676.69 L648.43,676.53 L649.94,676.37 L651.45,676.22 L652.96,676.07 L654.47,675.93 L655.98,675.79 L657.50,675.65 L659.01,675.52 L660.52,675.40 L662.03,675.28 L663.55,675.16 L665.06,675.05 L666.57,674.94 L668.08,674.83 L669.60,674.73 L671.11,674.63 L672.62,674.54 L674.13,674.45 L675.64,674.36 L677.15,674.28 L678.66,674.20 L680.16,674.12 L681.67,674.04 L683.18,673.97 L684.68,673.90 L686.18,673.83 L687.69,673.77 L689.19,673.70 L690.69,673.64 L692.18,673.58 L693.68,673.53 L695.18,673.47 L696.67,673.42 L698.16,673.37 L699.65,673.32 L701.14,673.27 L702.62,673.22 L704.11,673.18 L705.59,673.13 L707.07,673.09 L708.54,673.05 L710.02,673.01 L711.49,672.97 L712.96,672.93 L714.43,672.89 L716.00,672.80" stroke-width="2.45" stroke-linejoin="round"/>
<path d="M204.60,919.10 L206.06,918.65 L207.38,917.96 L208.70,917.27 L210.02,916.57 L211.33,915.87 L212.64,915.16 L213.95,914.45 L215.26,913.73 L216.57,913.01 L217.87,912.28 L219.17,911.55 L220.47,910.82 L221.76,910.08 L223.05,909.33 L224.34,908.59 L225.63,907.83 L226.92,907.08 L228.20,906.32 L229.49,905.56 L230.77,904.79 L232.05,904.02 L233.32,903.24 L234.60,902.46 L235.87,901.68 L237.14,900.90 L238.41,900.11 L239.68,899.32 L240.95,898.52 L242.21,897.73 L243.48,896.93 L244.74,896.12 L246.00,895.32 L247.26,894.51 L248.52,893.70 L249.78,892.89 L251.03,892.07 L252.29,891.25 L253.54,890.43 L254.79,889.61 L256.04,888.79 L257.30,887.96 L258.55,887.14 L259.79,886.31 L261.04,885.48 L262.29,884.64 L263.54,883.81 L264.78,882.97 L266.03,882.14 L267.27,881.30 L268.52,880.46 L269.76,879.62 L271.01,878.78 L272.25,877.94 L273.49,877.09 L274.74,876.25 L275.98,875.41 L277.22,874.56 L278.46,873.72 L279.70,872.87 L280.95,872.02 L282.19,871.18 L283.43,870.33 L284.67,869.49 L285.92,868.64 L287.16,867.79 L288.40,866.95 L289.65,866.10 L290.89,865.26 L292.13,864.41 L293.38,863.57 L294.62,862.73 L295.87,861.89 L297.11,861.04 L298.36,860.20 L299.61,859.36 L300.86,858.53 L302.11,857.69 L303.36,856.85 L304.61,856.02 L305.86,855.19 L307.11,854.35 L308.37,853.52 L309.62,852.70 L310.88,851.87 L312.13,851.04 L313.39,850.22 L314.65,849.40 L315.91,848.58 L317.17,847.77 L318.44,846.95 L319.70,846.14 L320.97,845.33 L322.24,844.53 L323.51,843.72 L324.78,842.92 L326.05,842.12 L327.33,841.33 L328.60,840.54 L329.88,839.75 L331.16,838.96 L332.44,838.17 L333.72,837.39 L335.01,836.61 L336.29,835.83 L337.58,835.06 L338.87,834.29 L340.16,833.52 L341.45,832.75 L342.74,831.99 L344.04,831.23 L345.33,830.47 L346.63,829.72 L347.93,828.96 L349.23,828.21 L350.53,827.47 L351.84,826.72 L353.14,825.98 L354.45,825.24 L355.76,824.50 L357.07,823.77 L358.38,823.04 L359.69,822.31 L361.00,821.58 L362.32,820.86 L363.64,820.14 L364.95,819.42 L366.27,818.71 L367.59,818.00 L368.92,817.29 L370.24,816.58 L371.57,815.88 L372.89,815.18 L374.22,814.48 L375.55,813.78 L376.88,813.09 L378.21,812.40 L379.55,811.71 L380.88,811.03 L382.22,810.35 L383.56,809.67 L384.90,808.99 L386.24,808.32 L387.58,807.65 L388.92,806.98 L390.27,806.31 L391.61,805.65 L392.96,804.99 L394.31,804.33 L395.66,803.68 L397.01,803.03 L398.36,802.38 L399.71,801.73 L401.07,801.09 L402.43,800.45 L403.78,799.81 L405.14,799.18 L406.50,798.55 L407.86,797.92 L409.23,797.29 L410.59,796.67 L411.96,796.05 L413.32,795.43 L414.69,794.81 L416.06,794.20 L417.43,793.59 L418.80,792.98 L420.17,792.38 L421.55,791.78 L422.92,791.18 L424.30,790.59 L425.68,789.99 L427.06,789.40 L428.44,788.82 L429.82,788.23 L431.20,787.65 L432.58,787.07 L433.97,786.50 L435.35,785.92 L436.74,785.35 L438.13,784.79 L439.52,784.22 L440.91,783.66 L442.30,783.10 L443.69,782.55 L445.09,782.00 L446.48,781.45 L447.88,780.90 L449.28,780.35 L450.68,779.81 L452.08,779.27 L453.48,778.74 L454.88,778.21 L456.28,777.68 L457.68,777.15 L459.09,776.62 L460.50,776.10 L461.90,775.58 L463.31,775.07 L464.72,774.55 L466.13,774.04 L467.54,773.53 L468.95,773.03 L470.37,772.52 L471.78,772.02 L473.20,771.53 L474.61,771.03 L476.03,770.54 L477.45,770.05 L478.87,769.56 L480.29,769.08 L481.71,768.60 L483.13,768.12 L484.55,767.64 L485.98,767.16 L487.40,766.69 L488.83,766.22 L490.26,765.76 L491.68,765.29 L493.11,764.83 L494.54,764.37 L495.97,763.91 L497.40,763.46 L498.83,763.01 L500.27,762.56 L501.70,762.11 L503.13,761.67 L504.57,761.22 L506.01,760.78 L507.44,760.34 L508.88,759.91 L510.32,759.48 L511.76,759.04 L513.20,758.62 L514.64,758.19 L516.08,757.77 L517.52,757.34 L518.97,756.92 L520.41,756.51 L521.85,756.09 L523.30,755.68 L524.74,755.27 L526.19,754.86 L527.64,754.45 L529.09,754.05 L530.54,753.65 L531.99,753.25 L533.44,752.85 L534.89,752.46 L536.34,752.06 L537.79,751.67 L539.24,751.28 L540.70,750.89 L542.15,750.51 L543.60,750.13 L545.06,749.75 L546.51,749.37 L547.97,748.99 L549.43,748.61 L550.89,748.24 L552.34,747.87 L553.80,747.50 L555.26,747.13 L556.72,746.77 L558.18,746.41 L559.64,746.05 L561.10,745.69 L562.57,745.33 L564.03,744.97 L565.49,744.62 L566.95,744.27 L568.42,743.92 L569.88,743.57 L571.35,743.22 L572.81,742.88 L574.28,742.53 L575.75,742.19 L577.21,741.85 L578.68,741.52 L580.15,741.18 L581.61,740.85 L583.08,740.51 L584.55,740.18 L586.02,739.86 L587.49,739.53 L588.96,739.20 L590.43,738.88 L591.90,738.56 L593.37,738.24 L594.84,737.92 L596.32,737.60 L597.79,737.28 L599.26,736.97 L600.73,736.66 L602.21,736.35 L603.68,736.04 L605.15,735.73 L606.63,735.42 L608.10,735.12 L609.57,734.81 L611.05,734.51 L612.52,734.21 L614.00,733.91 L615.48,733.61 L616.95,733.32 L618.43,733.02 L619.90,732.73 L621.38,732.44 L622.86,732.15 L624.33,731.86 L625.81,731.57 L627.29,731.29 L628.76,731.00 L630.24,730.72 L631.72,730.43 L633.20,730.15 L634.67,729.87 L636.15,729.60 L637.63,729.32 L639.11,729.04 L640.59,728.77 L642.07,728.49 L643.55,728.22 L645.02,727.95 L646.50,727.68 L647.98,727.41 L649.46,727.15 L650.94,726.88 L652.42,726.61 L653.90,726.35 L655.38,726.09 L656.86,725.83 L658.34,725.56 L659.81,725.31 L661.29,725.05 L662.77,724.79 L664.25,724.53 L665.73,724.28 L667.21,724.02 L668.69,723.77 L670.17,723.52 L671.65,723.27 L673.13,723.02 L674.61,722.77 L676.08,722.52 L677.56,722.27 L679.04,722.03 L680.52,721.78 L682.00,721.53 L683.48,721.29 L684.96,721.05 L686.43,720.81 L687.91,720.57 L689.39,720.32 L690.87,720.09 L692.34,719.85 L693.82,719.61 L695.30,719.37 L696.78,719.14 L698.25,718.90 L699.73,718.67 L701.21,718.43 L702.68,718.20 L704.16,717.97 L705.63,717.73 L707.11,717.50 L708.59,717.27 L710.06,717.04 L711.54,716.81 L713.01,716.59 L714.48,716.36 L716.00,716.20" stroke-width="2.45" stroke-dasharray="11.85 12.36" stroke-dashoffset="-1.57" stroke-linecap="round" stroke-linejoin="round"/>
<circle cx="204.60" cy="919.10" r="8.20" stroke-width="2.30"/>
<circle cx="259.70" cy="919.10" r="8.20" stroke-width="2.30"/>
<circle cx="346.80" cy="919.00" r="8.20" stroke-width="2.30"/>
<circle cx="463.00" cy="785.90" r="8.20" stroke-width="2.30"/>
<circle cx="588.40" cy="694.30" r="8.20" stroke-width="2.30"/>
<circle cx="716.00" cy="669.40" r="8.20" stroke-width="2.30"/>
<path d="M196.35,910.85L212.85,927.35M196.35,927.35L212.85,910.85" stroke-width="2.30" stroke-linecap="round"/>
<path d="M251.45,910.85L267.95,927.35M251.45,927.35L267.95,910.85" stroke-width="2.30" stroke-linecap="round"/>
<path d="M338.55,786.25L355.05,802.75M338.55,802.75L355.05,786.25" stroke-width="2.30" stroke-linecap="round"/>
<path d="M454.75,780.15L471.25,796.65M454.75,796.65L471.25,780.15" stroke-width="2.30" stroke-linecap="round"/>
<path d="M580.15,725.65L596.65,742.15M580.15,742.15L596.65,725.65" stroke-width="2.30" stroke-linecap="round"/>
<path d="M707.75,716.45L724.25,732.95M707.75,732.95L724.25,716.45" stroke-width="2.30" stroke-linecap="round"/>
<rect x="777.10" y="657.00" width="552.10" height="269.40" stroke-width="2.35" stroke-linejoin="round"/>
<path d="M755.60,666.60H777.10" stroke-width="2.35" stroke-linecap="round"/>
<path d="M755.60,791.80H777.10" stroke-width="2.35" stroke-linecap="round"/>
<path d="M755.60,917.00H777.10" stroke-width="2.35" stroke-linecap="round"/>
<path d="M797.20,926.40V948.00" stroke-width="2.35" stroke-linecap="round"/>
<path d="M852.00,926.40V948.00" stroke-width="2.35" stroke-linecap="round"/>
<path d="M939.90,926.40V948.00" stroke-width="2.35" stroke-linecap="round"/>
<path d="M1056.30,926.40V948.00" stroke-width="2.35" stroke-linecap="round"/>
<path d="M1181.30,926.40V948.00" stroke-width="2.35" stroke-linecap="round"/>
<path d="M1308.60,926.40V948.00" stroke-width="2.35" stroke-linecap="round"/>
<path d="M797.20,916.60 L920.00,916.90 L926.30,916.20 L931.30,914.80 L936.30,908.50 L941.90,886.60 L957.30,699.50 L962.20,677.20 L968.30,669.80 L973.70,668.10 L980.40,667.40 L990.00,667.10 L1308.60,666.80" stroke-width="2.45" stroke-linejoin="round"/>
<path d="M797.20,916.60 L798.71,916.58 L800.21,916.52 L801.71,916.48 L803.21,916.45 L804.72,916.44 L806.22,916.44 L807.72,916.46 L809.23,916.48 L810.74,916.50 L812.24,916.53 L813.75,916.56 L815.26,916.59 L816.77,916.61 L818.27,916.62 L819.78,916.62 L821.29,916.62 L822.80,916.59 L824.31,916.55 L825.82,916.49 L827.32,916.40 L828.82,916.27 L830.29,916.09 L831.75,915.86 L833.17,915.56 L834.56,915.19 L835.90,914.73 L837.20,914.18 L838.44,913.52 L839.62,912.75 L840.75,911.88 L841.81,910.92 L842.80,909.87 L843.73,908.75 L844.59,907.56 L845.39,906.30 L846.14,904.99 L846.83,903.62 L847.47,902.21 L848.06,900.75 L848.61,899.27 L849.12,897.75 L849.59,896.21 L850.03,894.65 L850.44,893.08 L850.82,891.51 L851.18,889.93 L851.52,888.37 L851.84,886.81 L852.14,885.27 L852.44,883.75 L852.72,882.24 L853.00,880.75 L853.26,879.27 L853.52,877.80 L853.77,876.34 L854.02,874.89 L854.26,873.45 L854.49,872.00 L854.73,870.56 L854.96,869.12 L855.19,867.67 L855.42,866.23 L855.64,864.77 L855.87,863.32 L856.10,861.86 L856.33,860.40 L856.55,858.94 L856.78,857.48 L857.00,856.01 L857.22,854.54 L857.45,853.07 L857.67,851.59 L857.89,850.11 L858.11,848.64 L858.33,847.15 L858.55,845.67 L858.76,844.19 L858.98,842.70 L859.19,841.21 L859.41,839.72 L859.62,838.23 L859.84,836.74 L860.05,835.24 L860.26,833.75 L860.47,832.25 L860.68,830.75 L860.89,829.26 L861.09,827.76 L861.30,826.26 L861.51,824.75 L861.71,823.25 L861.91,821.75 L862.11,820.25 L862.32,818.74 L862.51,817.24 L862.71,815.74 L862.91,814.23 L863.11,812.73 L863.30,811.23 L863.50,809.72 L863.69,808.22 L863.88,806.72 L864.07,805.21 L864.26,803.71 L864.45,802.21 L864.64,800.71 L864.82,799.21 L865.01,797.71 L865.19,796.21 L865.37,794.71 L865.55,793.21 L865.73,791.72 L865.91,790.22 L866.09,788.73 L866.26,787.24 L866.44,785.75 L866.61,784.26 L866.79,782.77 L866.96,781.28 L867.13,779.80 L867.31,778.31 L867.48,776.83 L867.65,775.34 L867.83,773.86 L868.01,772.38 L868.18,770.90 L868.36,769.42 L868.54,767.94 L868.72,766.46 L868.91,764.98 L869.10,763.50 L869.28,762.02 L869.48,760.54 L869.67,759.07 L869.87,757.59 L870.07,756.11 L870.27,754.64 L870.48,753.16 L870.69,751.68 L870.91,750.20 L871.13,748.73 L871.35,747.25 L871.58,745.77 L871.81,744.30 L872.05,742.82 L872.29,741.34 L872.54,739.86 L872.80,738.38 L873.06,736.90 L873.33,735.43 L873.60,733.95 L873.88,732.46 L874.16,730.98 L874.46,729.50 L874.76,728.02 L875.07,726.54 L875.38,725.05 L875.70,723.57 L876.03,722.08 L876.37,720.59 L876.72,719.10 L877.07,717.61 L877.44,716.12 L877.81,714.63 L878.19,713.14 L878.59,711.65 L878.99,710.15 L879.40,708.65 L879.82,707.16 L880.26,705.67 L880.70,704.18 L881.17,702.70 L881.65,701.23 L882.14,699.76 L882.66,698.32 L883.19,696.88 L883.75,695.46 L884.33,694.06 L884.93,692.68 L885.56,691.32 L886.21,689.99 L886.89,688.68 L887.60,687.39 L888.33,686.14 L889.10,684.92 L889.90,683.73 L890.74,682.58 L891.60,681.46 L892.51,680.39 L893.45,679.35 L894.43,678.36 L895.44,677.41 L896.50,676.50 L897.60,675.65 L898.75,674.85 L899.93,674.09 L901.16,673.40 L902.44,672.75 L903.75,672.15 L905.11,671.60 L906.49,671.10 L907.91,670.64 L909.35,670.21 L910.82,669.83 L912.32,669.48 L913.83,669.17 L915.36,668.89 L916.91,668.64 L918.47,668.42 L920.03,668.22 L921.61,668.04 L923.18,667.89 L924.76,667.75 L926.33,667.63 L927.90,667.52 L929.46,667.43 L931.01,667.34 L932.55,667.27 L934.07,667.19 L935.57,667.12 L937.05,667.06 L938.50,666.99 L940.00,666.90 L1308.60,666.70" stroke-width="2.45" stroke-dasharray="11.85 12.36" stroke-dashoffset="0.22" stroke-linecap="round" stroke-linejoin="round"/>
<circle cx="797.20" cy="908.30" r="8.20" stroke-width="2.30"/>
<circle cx="852.00" cy="916.90" r="8.20" stroke-width="2.30"/>
<circle cx="939.90" cy="900.30" r="8.20" stroke-width="2.30"/>
<circle cx="1056.30" cy="666.60" r="8.20" stroke-width="2.30"/>
<circle cx="1181.30" cy="666.60" r="8.20" stroke-width="2.30"/>
<circle cx="1308.60" cy="666.60" r="8.20" stroke-width="2.30"/>
<path d="M788.95,900.05L805.45,916.55M788.95,916.55L805.45,900.05" stroke-width="2.30" stroke-linecap="round"/>
<path d="M843.75,874.85L860.25,891.35M843.75,891.35L860.25,874.85" stroke-width="2.30" stroke-linecap="round"/>
<path d="M931.65,658.35L948.15,674.85M931.65,674.85L948.15,658.35" stroke-width="2.30" stroke-linecap="round"/>
<path d="M1048.05,658.35L1064.55,674.85M1048.05,674.85L1064.55,658.35" stroke-width="2.30" stroke-linecap="round"/>
<path d="M1173.05,658.35L1189.55,674.85M1173.05,674.85L1189.55,658.35" stroke-width="2.30" stroke-linecap="round"/>
<path d="M1300.35,658.35L1316.85,674.85M1300.35,674.85L1316.85,658.35" stroke-width="2.30" stroke-linecap="round"/>
<path d="M346.1,39.5H431.8" stroke-width="3.9" stroke-linecap="butt"/>
<path d="M346.1,80.5H431.9" stroke-width="3.9" stroke-linecap="butt" stroke-dasharray="13.7 4.45"/>
</g>
<g font-family="Liberation Serif" fill="#000" stroke="#000" stroke-width="0.35">
<text transform="translate(93.91,24.90) scale(0.950,1)" font-size="31.00">100%</text>
<text x="101.97" y="149.50" font-size="31.00">50%</text>
<text x="107.33" y="276.60" font-size="31.00">0%</text>
<text transform="translate(83.81,343.20) scale(0.950,1)" font-size="31.00">100%</text>
<text x="91.77" y="467.50" font-size="31.00">50%</text>
<text x="96.63" y="594.50" font-size="31.00">0%</text>
<text transform="translate(83.41,674.50) scale(0.950,1)" font-size="31.00">100%</text>
<text x="91.37" y="798.60" font-size="31.00">50%</text>
<text x="96.33" y="925.90" font-size="31.00">0%</text>
<text x="643.98" y="251.60" font-size="36.50">Day 2</text>
<text x="1226.11" y="259.20" font-size="36.50">Day 22</text>
<text x="645.23" y="580.40" font-size="36.50">Day 7</text>
<text x="1219.86" y="577.30" font-size="36.50">Day 32</text>
<text x="620.78" y="908.90" font-size="36.50">Day 14</text>
<text x="1216.33" y="909.40" font-size="36.50">Day 40</text>
<text x="211.81" y="50.00" font-size="36.80">SB1000</text>
<text x="211.81" y="92.50" font-size="36.80">SB2000</text>
<text x="195.05" y="987.50" font-size="31.00" font-weight="bold" stroke-width="0">0</text>
<text x="247.09" y="987.50" font-size="31.00" font-weight="bold" stroke-width="0">1</text>
<text x="337.87" y="987.50" font-size="31.00" font-weight="bold" stroke-width="0">5</text>
<text x="443.52" y="987.50" font-size="31.00" font-weight="bold" stroke-width="0">25</text>
<text x="559.45" y="987.50" font-size="31.00" font-weight="bold" stroke-width="0">125</text>
<text x="687.95" y="987.50" font-size="31.00" font-weight="bold" stroke-width="0">625</text>
<text x="787.85" y="985.30" font-size="31.00" font-weight="bold" stroke-width="0">0</text>
<text x="841.28" y="985.30" font-size="31.00" font-weight="bold" stroke-width="0">1</text>
<text x="930.97" y="985.30" font-size="31.00" font-weight="bold" stroke-width="0">5</text>
<text x="1037.12" y="985.30" font-size="31.00" font-weight="bold" stroke-width="0">25</text>
<text x="1153.05" y="985.30" font-size="31.00" font-weight="bold" stroke-width="0">125</text>
<text x="1281.45" y="985.30" font-size="31.00" font-weight="bold" stroke-width="0">625</text>
<text x="348.16" y="1064.5" font-size="48.50">Concentration of active ingredient (mg L<tspan font-size="32" dy="-14.5">-1</tspan><tspan dy="14.5">)</tspan></text>
<text transform="translate(34,626.86) rotate(-90)" font-size="48.50">Percent mortality</text>
</g>
</svg>
</body></html>
